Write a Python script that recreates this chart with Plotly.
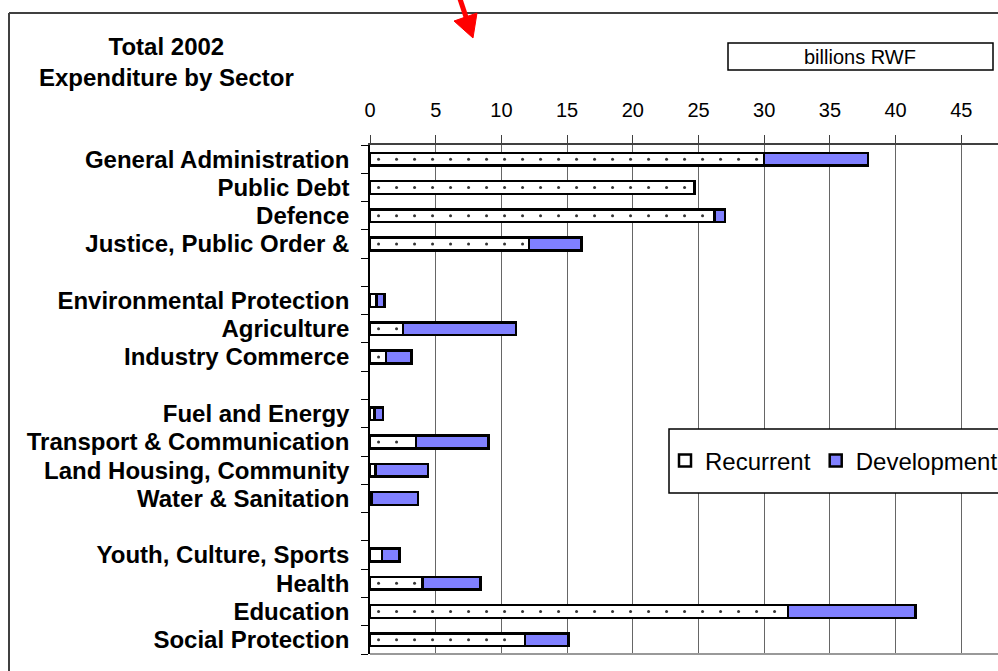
import plotly.graph_objects as go

sectors = ["General Administration", "Public Debt", "Defence", "Justice, Public Order &", "",
           "Environmental Protection", "Agriculture", "Industry Commerce", "",
           "Fuel and Energy", "Transport & Communication", "Land Housing, Community", "Water & Sanitation", "",
           "Youth, Culture, Sports", "Health", "Education", "Social Protection"]
recurrent = [30.0, 24.7, 26.2, 12.1, None, 0.5, 2.5, 1.2, None, 0.35, 3.5, 0.4, 0.1, None,
             0.9, 4.0, 31.8, 11.8]
development = [7.9, None, 0.8, 4.0, None, 0.6, 8.6, 1.95, None, 0.65, 5.5, 4.0, 3.55, None,
               1.35, 4.4, 9.7, 3.3]
x_ticks = [0, 5, 10, 15, 20, 25, 30, 35, 40, 45]

W, H = 998, 671
L, R, T, B = 370, 0, 145, 17
pw, ph = W - L - R, H - T - B
PX_PER_UNIT = 13.14


def px(x):
    return (x - L) / pw


def py(y):
    return (H - B - y) / ph


pos = list(range(len(sectors)))
FONT = "Liberation Sans, Arial, sans-serif"

# sparse dot texture for the recurrent bars (derived from the recurrent values)
dot_step = 18 / PX_PER_UNIT
dot_x, dot_y = [], []
for i, r in enumerate(recurrent):
    if r is None:
        continue
    d = 0.65
    while d < r - 0.25:
        dot_x.append(d)
        dot_y.append(i)
        d += dot_step

fig = go.Figure()
fig.add_trace(go.Bar(
    y=pos, x=recurrent, orientation="h", name="Recurrent", width=0.45,
    marker=dict(color="white", line=dict(color="black", width=2.5)),
))
fig.add_trace(go.Bar(
    y=pos, x=development, orientation="h", name="Development", width=0.45,
    marker=dict(color="#8080FF", line=dict(color="black", width=2.5)),
))
fig.add_trace(go.Scatter(
    x=dot_x, y=dot_y, mode="markers", showlegend=False, hoverinfo="skip",
    marker=dict(size=3, color="#333", line=dict(width=0)),
))

fig.update_layout(
    width=W, height=H, barmode="stack",
    margin=dict(l=L, r=R, t=T, b=B, pad=0, autoexpand=False),
    paper_bgcolor="white", plot_bgcolor="white",
    font=dict(family=FONT, color="black"),
    showlegend=True,
    legend=dict(orientation="h", x=px(665), y=py(461), xanchor="left", yanchor="middle",
                bgcolor="rgba(0,0,0,0)", borderwidth=0, font=dict(size=24, family=FONT),
                traceorder="normal"),
    xaxis=dict(side="top", range=[0, pw / PX_PER_UNIT], tickvals=x_ticks, ticktext=[str(v) for v in x_ticks],
               showgrid=True, gridcolor="#666", gridwidth=1, zeroline=False,
               showline=True, linecolor="#404040", linewidth=2,
               ticks="outside", ticklen=8, tickcolor="#404040", tickwidth=1,
               ticklabelstandoff=10, tickfont=dict(size=20, family=FONT)),
    yaxis=dict(range=[len(sectors) - 0.5, -0.5], tickvals=pos, ticktext=sectors,
               showgrid=False, zeroline=False, showline=True, linecolor="black", linewidth=1.5,
               ticks="", ticklabelstandoff=14,
               tickfont=dict(size=24, family=FONT, weight="bold"),
               minor=dict(tick0=0.5, dtick=1, ticks="outside", ticklen=7, tickcolor="black",
                          tickwidth=1, showgrid=False)),
)


def ppath(points):
    return "M " + " L ".join(f"{px(x):.5f},{py(y):.5f}" for x, y in points) + " Z"


shapes = [
    # outer frame (top and left edges)
    dict(type="line", xref="paper", yref="paper", x0=px(9), x1=px(1010), y0=py(13), y1=py(13),
         line=dict(color="#404040", width=2)),
    dict(type="line", xref="paper", yref="paper", x0=px(9), x1=px(9), y0=py(13), y1=py(680),
         line=dict(color="#404040", width=2)),
    # bottom axis line
    dict(type="line", xref="paper", yref="paper", x0=0, x1=1, y0=0, y1=0,
         line=dict(color="#999", width=2)),
    # units box
    dict(type="rect", xref="paper", yref="paper", x0=px(728), x1=px(993), y0=py(70), y1=py(43),
         line=dict(color="black", width=1.5), fillcolor="white"),
    # legend box
    dict(type="rect", xref="paper", yref="paper", x0=px(669), x1=px(1005), y0=py(493), y1=py(429),
         line=dict(color="black", width=1.5), fillcolor="white", layer="above"),
    # red arrow (shaft + head)
    dict(type="line", xref="paper", yref="paper", x0=px(459), y0=py(-4), x1=px(467), y1=py(20),
         line=dict(color="red", width=5), layer="above"),
    dict(type="path", xref="paper", yref="paper",
         path=ppath([(454, 21), (477, 13), (473, 38)]),
         fillcolor="red", line=dict(color="red", width=1), layer="above"),
]
fig.update_layout(shapes=shapes)

fig.add_annotation(text="<b>Total 2002<br>Expenditure by Sector</b>", xref="paper", yref="paper",
                   x=px(166), y=py(62), xanchor="center", yanchor="middle", showarrow=False,
                   font=dict(size=24, family=FONT), align="center")
fig.add_annotation(text="billions RWF", xref="paper", yref="paper",
                   x=px(860), y=py(57), xanchor="center", yanchor="middle", showarrow=False,
                   font=dict(size=20, family=FONT))

fig.write_html("out.html")
